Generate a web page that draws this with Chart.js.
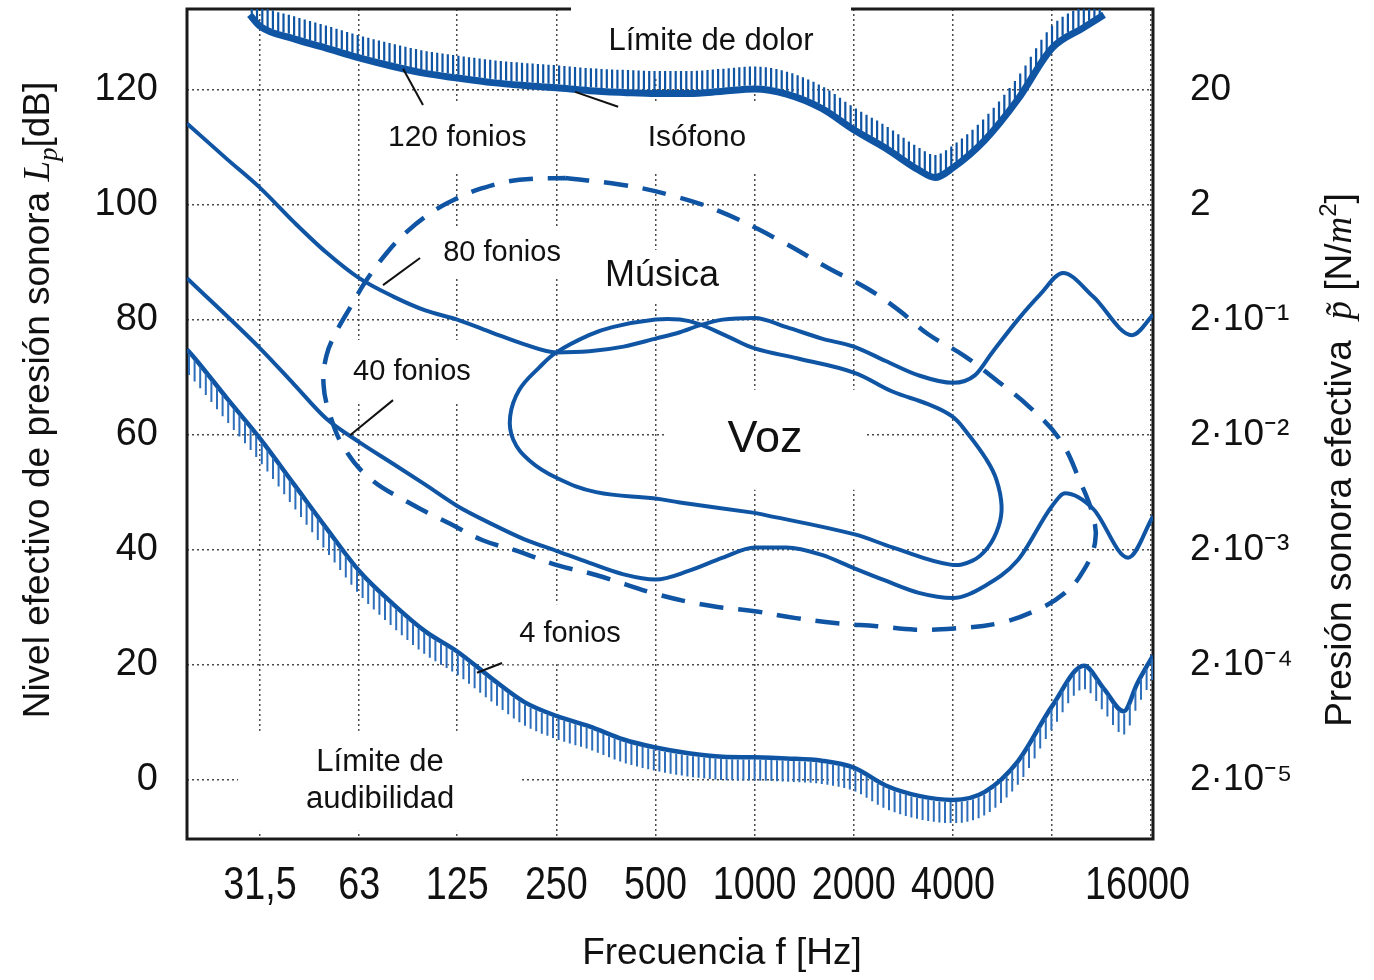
<!DOCTYPE html>
<html>
<head>
<meta charset="utf-8">
<script src="https://cdn.jsdelivr.net/npm/chart.js@4.4.0/dist/chart.umd.min.js"></script>
<style>
  html, body { margin: 0; padding: 0; background: #fff; }
</style>
</head>
<body>
<canvas id="chart" width="1374" height="980"></canvas>
<script>
// axis ticks
const freqTicks = [31.5, 63, 125, 250, 500, 1000, 2000, 4000, 8000, 16000];
const freqLabels = ['31,5', '63', '125', '250', '500', '1000', '2000', '4000', '', '16000'];
const levelTicks = [0, 20, 40, 60, 80, 100, 120];
const pressureLabels = ['2·10⁻⁵', '2·10⁻⁴', '2·10⁻³', '2·10⁻²', '2·10⁻¹', '2', '20'];

// Límite de dolor (isófono 120 fonios)
const painF = [29.3, 31.5, 40, 50, 63, 80, 100, 125, 160, 200, 250, 315, 400, 500, 630, 800, 1000, 1250, 1600, 2000, 2500, 3150, 3530, 4000, 5000, 6300, 8000, 10000, 11500];
const painDb = [133, 131, 128.8, 127.2, 125.5, 124, 122.8, 122, 121.2, 120.7, 120.3, 119.8, 119.5, 119.3, 119.3, 119.7, 120.1, 119.2, 116.7, 113, 109.8, 106, 104.7, 106.4, 111.2, 118.3, 127.2, 130.8, 133];

// isófono 80 fonios
const phon80F = [18.9, 25, 31.5, 40, 50, 63, 80, 100, 125, 160, 200, 250, 315, 400, 500, 593, 680, 800, 1000, 1250, 1600, 2000, 2500, 3150, 4000, 4660, 5250, 6300, 7340, 8640, 10660, 14000, 16200];
const phon80Db = [114.1, 107.9, 102.9, 96.9, 91.7, 87.2, 84.0, 81.6, 80, 77.7, 75.7, 74.3, 74.5, 75.3, 76.7, 77.8, 79, 80, 80.3, 78.7, 76.7, 75.3, 72.8, 70.3, 69, 70.3, 74.2, 80, 84.3, 88.1, 84, 77.3, 80.8];

// isófono 40 fonios
const phon40F = [18.9, 31.5, 40, 50, 63, 80, 100, 125, 160, 200, 250, 315, 400, 500, 630, 800, 1000, 1250, 1600, 2000, 2500, 3150, 4000, 5000, 6300, 8000, 8760, 10660, 13620, 16200];
const phon40Db = [87.2, 75, 68.7, 62.8, 58.7, 54.9, 51.3, 47.6, 44.4, 41.8, 39.8, 37.7, 35.7, 34.8, 36.3, 38.6, 40.4, 40.4, 39.1, 36.8, 34.6, 32.5, 31.6, 33.7, 38.2, 47.6, 49.8, 47.1, 38.6, 45.8];

// Límite de audibilidad (4 fonios)
const thrF = [18.9, 20, 25, 31.5, 40, 50, 63, 80, 100, 125, 160, 200, 250, 315, 400, 500, 630, 800, 1000, 1250, 1600, 2000, 2500, 3150, 4000, 5000, 6300, 8000, 10000, 11500, 13200, 14500, 16200];
const thrDb = [74.8, 73.2, 66.3, 59.3, 51.3, 43.8, 36.3, 30.5, 25.8, 22.3, 17.5, 13.5, 11.1, 9.3, 7.0, 5.6, 4.6, 4.0, 3.9, 3.7, 3.3, 2.1, -1.0, -2.8, -3.5, -2.1, 3.2, 12.8, 19.8, 15.8, 11.9, 16.7, 21.6];

// zona de la voz (contorno cerrado)
const vozF = [1000, 2000, 2620, 3930, 4590, 5110, 5500, 5620, 5420, 5040, 4420, 3970, 3360, 2620, 2000, 1364, 1000, 833, 679, 593, 500, 370, 314, 250, 222, 193, 181, 185, 207, 250, 330, 500, 593, 1000];
const vozDb = [46.4, 42.7, 40.4, 37.4, 38.1, 40.4, 44, 47.6, 52.2, 55.8, 60.3, 63.2, 65.3, 67.5, 70.8, 73.2, 75, 77, 79.2, 80, 80, 78.7, 77.3, 74.3, 71.7, 67.8, 63.2, 59.1, 55.5, 52.5, 50, 48.9, 48.2, 46.4];

// zona de la música (contorno cerrado, discontinuo)
const musicaF = [266, 389, 542, 777, 1180, 1694, 2198, 2744, 3356, 4330, 5497, 6833, 8460, 9740, 10660, 10810, 9950, 8760, 7184, 5497, 4029, 3076, 2351, 1782, 1335, 1000, 741, 517, 330, 248, 190, 150, 119, 89, 67.5, 56.3, 51.2, 49.1, 50.1, 53.6, 59.3, 66, 76.7, 88, 103, 121, 148, 193, 266];
const musicaDb = [104.6, 103.5, 101.8, 98.9, 93.9, 88.8, 85.4, 81.6, 77.5, 73.7, 69.2, 64.8, 59.1, 51.8, 45.8, 41.3, 36.3, 32.5, 29.5, 27.2, 26.3, 26.1, 26.7, 27.2, 28.1, 29.3, 30.2, 32.1, 35.6, 37.4, 39.8, 41.6, 44.5, 48.2, 52.5, 58, 63.7, 68.7, 73.7, 77.8, 82.2, 86.7, 91.7, 95.3, 98.4, 100.7, 102.8, 104.3, 104.6];

const BLUE = '#0f55a4';
const SANS = '"Liberation Sans", Arial, sans-serif';
const SERIF = '"Liberation Serif", "DejaVu Serif", serif';
const zip = (f, d) => f.map((v, i) => ({x: v, y: d[i]}));

// notes inside the plot, placed in data units
const notes = [
  {text: ['Límite de dolor'], f: 737, db: 128.3, size: 31, box: [280, 72]},
  {text: ['120 fonios'], f: 125, db: 111.7, size: 30, box: [185, 70]},
  {text: ['Isófono'], f: 668, db: 111.7, size: 30, box: [200, 70]},
  {text: ['80 fonios'], f: 171, db: 91.6, size: 29, box: [134, 50]},
  {text: ['Música'], f: 523, db: 87.6, size: 36, box: [140, 52]},
  {text: ['40 fonios'], f: 91.1, db: 70.9, size: 29, box: [146, 64]},
  {text: ['Voz'], f: 1075, db: 59.1, size: 45, box: [200, 100]},
  {text: ['4 fonios'], f: 275, db: 25.3, size: 29, box: [150, 60]},
  {text: ['Límite de', 'audibilidad'], f: 72.9, db: -0.2, size: 31, box: [284, 100]}
];
const leaders = [
  [98.4, 117.3, 85.6, 123.6],
  [385, 117.0, 285, 119.6],
  [96.4, 90.7, 74.4, 86.0],
  [79.8, 66.0, 59.1, 59.9],
  [171, 20.3, 143.5, 18.6]
];

function drawRuns(ctx, runs, cx, cy, rot) {
  ctx.save();
  ctx.translate(cx, cy);
  ctx.rotate(rot);
  ctx.textAlign = 'left';
  ctx.textBaseline = 'alphabetic';
  let total = 0;
  runs.forEach(r => { ctx.font = r.font; r.w = ctx.measureText(r.t).width; total += r.w; });
  let xx = -total / 2;
  runs.forEach(r => {
    ctx.font = r.font;
    ctx.fillText(r.t, xx, 13 + (r.dy || 0));
    xx += r.w;
  });
  ctx.restore();
}

// y value on the drawn (monotone) curve at a given pixel x
function curveY(pts, px) {
  let k = 0;
  while (k < pts.length - 2 && pts[k + 1].x < px) k++;
  const p0 = pts[k], p1 = pts[k + 1];
  const t = Math.min(1, Math.max(0, (px - p0.x) / (p1.x - p0.x)));
  const c1 = p0.cp2y !== undefined ? p0.cp2y : p0.y;
  const c2 = p1.cp1y !== undefined ? p1.cp1y : p1.y;
  const u = 1 - t;
  return u * u * u * p0.y + 3 * u * u * t * c1 + 3 * u * t * t * c2 + t * t * t * p1.y;
}

const decorations = {
  id: 'decorations',
  beforeDatasetsDraw(chart) {
    const {ctx, chartArea: a, scales: {x, y}} = chart;
    ctx.save();
    ctx.strokeStyle = '#1a1a1a';
    ctx.lineWidth = 3;
    ctx.strokeRect(a.left, a.top, a.right - a.left, a.bottom - a.top);
    ctx.fillStyle = '#fff';
    notes.forEach(n => {
      const cx = x.getPixelForValue(n.f), cy = y.getPixelForValue(n.db);
      ctx.fillRect(cx - n.box[0] / 2, cy - n.box[1] / 2, n.box[0], n.box[1]);
    });
    ctx.restore();
  },
  afterDatasetsDraw(chart) {
    const {ctx, chartArea: a, scales: {x, y}} = chart;

    // hatching of the two limit curves
    ctx.save();
    ctx.beginPath();
    ctx.rect(a.left, a.top, a.right - a.left, a.bottom - a.top);
    ctx.clip();
    chart.data.datasets.forEach((ds, i) => {
      if (!ds.hatch) return;
      const pts = chart.getDatasetMeta(i).data;
      const h = ds.hatch;
      ctx.strokeStyle = h.color;
      ctx.lineWidth = h.width;
      ctx.beginPath();
      for (let px = pts[0].x + 2; px <= pts[pts.length - 1].x; px += h.step) {
        const py = curveY(pts, px) + h.dir * ds.borderWidth / 2;
        ctx.moveTo(px, py);
        ctx.lineTo(px, py + h.dir * h.len);
      }
      ctx.stroke();
    });
    ctx.restore();

    // leader lines
    ctx.save();
    ctx.strokeStyle = '#111';
    ctx.lineWidth = 2;
    leaders.forEach(l => {
      ctx.beginPath();
      ctx.moveTo(x.getPixelForValue(l[0]), y.getPixelForValue(l[1]));
      ctx.lineTo(x.getPixelForValue(l[2]), y.getPixelForValue(l[3]));
      ctx.stroke();
    });
    ctx.restore();

    // notes
    ctx.save();
    ctx.fillStyle = '#111';
    ctx.textAlign = 'center';
    ctx.textBaseline = 'middle';
    notes.forEach(n => {
      const cx = x.getPixelForValue(n.f), cy = y.getPixelForValue(n.db);
      ctx.font = n.size + 'px ' + SANS;
      const gap = n.size * 1.2;
      n.text.forEach((t, j) => {
        ctx.fillText(t, cx, cy + (j - (n.text.length - 1) / 2) * gap);
      });
    });
    ctx.restore();
  },
  afterDraw(chart) {
    const {ctx, chartArea: a, scales: {x}} = chart;
    ctx.save();
    ctx.fillStyle = '#111';

    // frequency labels, narrow face (horizontally condensed)
    ctx.font = '46px ' + SANS;
    ctx.textAlign = 'center';
    ctx.textBaseline = 'middle';
    x.ticks.forEach((t, i) => {
      const label = freqLabels[i];
      if (!label) return;
      const w = ctx.measureText(label).width * 0.82;
      const px = Math.min(x.getPixelForValue(t.value), a.right + 37 - w / 2);
      ctx.save();
      ctx.translate(px, a.bottom + 47);
      ctx.scale(0.82, 1);
      ctx.fillText(label, 0, 0);
      ctx.restore();
    });

    drawRuns(ctx, [
      {t: 'Nivel efectivo de presión sonora ', font: '37px ' + SANS},
      {t: 'L', font: 'italic 37px ' + SERIF},
      {t: 'p', font: 'italic 27px ' + SERIF, dy: 8},
      {t: '[dB]', font: '37px ' + SANS}
    ], 36, 400, -Math.PI / 2);
    drawRuns(ctx, [
      {t: 'Presión sonora efectiva  ', font: '37px ' + SANS},
      {t: 'p̃', font: 'italic 37px ' + SERIF},
      {t: ' [N/', font: '37px ' + SANS},
      {t: 'm', font: 'italic 37px ' + SERIF},
      {t: '2', font: '24px ' + SANS, dy: -15},
      {t: ']', font: '37px ' + SANS}
    ], 1338, 460, -Math.PI / 2);
    drawRuns(ctx, [{t: 'Frecuencia f [Hz]', font: '37px ' + SANS}], 722, 951, 0);
    ctx.restore();
  }
};

const lineBase = {pointRadius: 0, fill: false, borderColor: BLUE};
const noPad = s => { s.paddingTop = 0; s.paddingBottom = 0; s.paddingLeft = 0; s.paddingRight = 0; };

new Chart(document.getElementById('chart'), {
  type: 'line',
  data: {
    datasets: [
      Object.assign({}, lineBase, {
        label: 'Límite de dolor', data: zip(painF, painDb), borderWidth: 7,
        cubicInterpolationMode: 'monotone',
        hatch: {dir: -1, len: 19, step: 5.3, width: 2.2, color: BLUE}
      }),
      Object.assign({}, lineBase, {
        label: '80 fonios', data: zip(phon80F, phon80Db), borderWidth: 4,
        cubicInterpolationMode: 'monotone'
      }),
      Object.assign({}, lineBase, {
        label: '40 fonios', data: zip(phon40F, phon40Db), borderWidth: 4,
        cubicInterpolationMode: 'monotone'
      }),
      Object.assign({}, lineBase, {
        label: 'Límite de audibilidad', data: zip(thrF, thrDb), borderWidth: 4.5,
        cubicInterpolationMode: 'monotone',
        hatch: {dir: 1, len: 21, step: 5.6, width: 2, color: '#2d6fbb'}
      }),
      Object.assign({}, lineBase, {
        label: 'Voz', data: zip(vozF, vozDb), borderWidth: 4, tension: 0.4
      }),
      Object.assign({}, lineBase, {
        label: 'Música', data: zip(musicaF, musicaDb), borderWidth: 4.5, tension: 0.4,
        borderDash: [24, 15]
      })
    ]
  },
  options: {
    responsive: false,
    animation: false,
    events: [],
    layout: {padding: {top: 9, left: 0, right: 0, bottom: 0}},
    plugins: {legend: {display: false}, tooltip: {enabled: false}},
    scales: {
      x: {
        type: 'logarithmic',
        min: 18.9,
        max: 16200,
        afterBuildTicks: s => { s.ticks = freqTicks.map(v => ({value: v})); },
        afterFit: s => { s.height = 141; noPad(s); },
        grid: {color: '#4a4a4a', lineWidth: 1.5, drawTicks: false},
        border: {display: false, dash: [2, 3]},
        ticks: {display: false, autoSkip: false, maxRotation: 0}
      },
      y: {
        type: 'linear',
        position: 'left',
        min: -10.3,
        max: 134,
        afterBuildTicks: s => { s.ticks = levelTicks.map(v => ({value: v})); },
        afterFit: s => { s.width = 187; noPad(s); },
        grid: {color: '#4a4a4a', lineWidth: 1.5, drawTicks: false},
        border: {display: false, dash: [2, 3]},
        ticks: {
          padding: 29, color: '#111',
          font: {family: SANS, size: 38},
          callback: v => String(v)
        }
      },
      y2: {
        type: 'linear',
        position: 'right',
        min: -10.3,
        max: 134,
        afterBuildTicks: s => { s.ticks = levelTicks.map(v => ({value: v})); },
        afterFit: s => { s.width = 221; noPad(s); },
        grid: {display: false, drawTicks: false},
        border: {display: false},
        ticks: {
          padding: 37, color: '#111',
          font: {family: SANS, size: 37},
          callback: (v, i) => pressureLabels[i]
        }
      }
    }
  },
  plugins: [decorations]
});
</script>
</body>
</html>
